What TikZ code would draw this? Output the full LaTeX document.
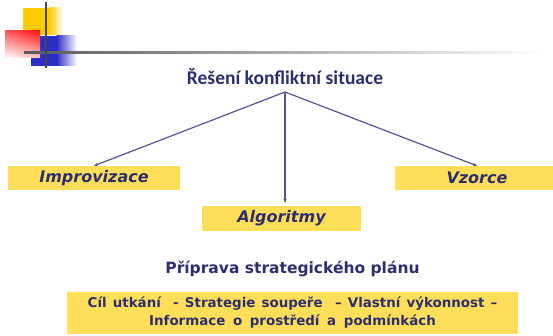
\documentclass[tikz,border=0pt]{standalone}
\usepackage{fontspec}
\usetikzlibrary{arrows.meta,shadings}
\newfontfamily\dvfont{DejaVu Sans}
\newfontfamily\calfont{Carlito}
\definecolor{boxyellow}{RGB}{255,223,90}
\definecolor{txtnavy}{RGB}{46,46,110}
\definecolor{arrowblue}{RGB}{85,85,150}
\definecolor{logoyellow}{RGB}{255,204,0}
\definecolor{logored}{RGB}{255,20,20}
\definecolor{logoblue}{RGB}{45,45,200}
\definecolor{linegray}{RGB}{90,90,90}
\tikzset{
  ybox/.style={fill=boxyellow, inner sep=0pt, text=txtnavy},
  lbl/.style={ybox, font=\dvfont\bfseries\itshape\fontsize{16}{18}\selectfont},
  conn/.style={draw=arrowblue, line width=1.2pt, -{Stealth[length=4pt,width=3.5pt]}},
}
\begin{document}
\begin{tikzpicture}[x=1pt,y=-1pt]
\useasboundingbox (0,0) rectangle (553,336);
% logo
\fill[logoyellow] (23,8) rectangle (50,35);
\shade[left color=logoyellow, right color=white] (49.5,8) rectangle (63,35);
\fill[logoblue] (31,36) rectangle (57,66);
\shade[left color=logoblue, right color=white] (56.5,36) rectangle (77,66);
\shade[upper right=logored, upper left=logored!70!white, lower left=white, lower right=logored!25!white] (5,31) rectangle (40,58);
\shade[left color=linegray, right color=white] (24,51.8) rectangle (545,53.3);
\draw[linegray!80!black, line width=1.4pt] (46,2) -- (46,68);
% title
\node[text=txtnavy, font=\calfont\bfseries\fontsize{19.5}{22}\selectfont, anchor=base] (title) at (285,85) {Řešení konfliktní situace};
\coordinate (hub) at (285,92);
% boxes
\node[lbl, minimum width=172pt, minimum height=24pt] (impro) at (94,178) {Improvizace};
\node[lbl, minimum width=164pt, minimum height=24pt] (vzorce) at (477,178) {Vzorce};
\node[lbl, minimum width=159pt, minimum height=25pt] (alg) at (281.5,218.5) {Algoritmy};
% connectors
\draw[conn] (hub) -- (impro.north);
\draw[conn] (hub) -- (vzorce.north);
\draw[conn, shorten >=3pt] (hub) -- (hub |- alg.north);
% plan
\node[text=txtnavy, font=\dvfont\bfseries\fontsize{15.5}{18}\selectfont, anchor=base] (plan) at (292.5,273) {Příprava strategického plánu};
\node[ybox, minimum width=451pt, minimum height=42pt, align=center, font=\dvfont\bfseries\fontsize{13.4}{18}\selectfont] (info) at (292.5,313) {Cíl\hspace{1.5pt} utkání\hspace{3pt} \ -\hspace{1.5pt} Strategie\hspace{1.5pt} soupeře\hspace{3pt} \ –\hspace{1.5pt} Vlastní\hspace{1.5pt} výkonnost\hspace{1.5pt} –\\Informace\hspace{3pt} o\hspace{3pt} prostředí\hspace{3pt} a\hspace{3pt} podmínkách};
\end{tikzpicture}
\end{document}
